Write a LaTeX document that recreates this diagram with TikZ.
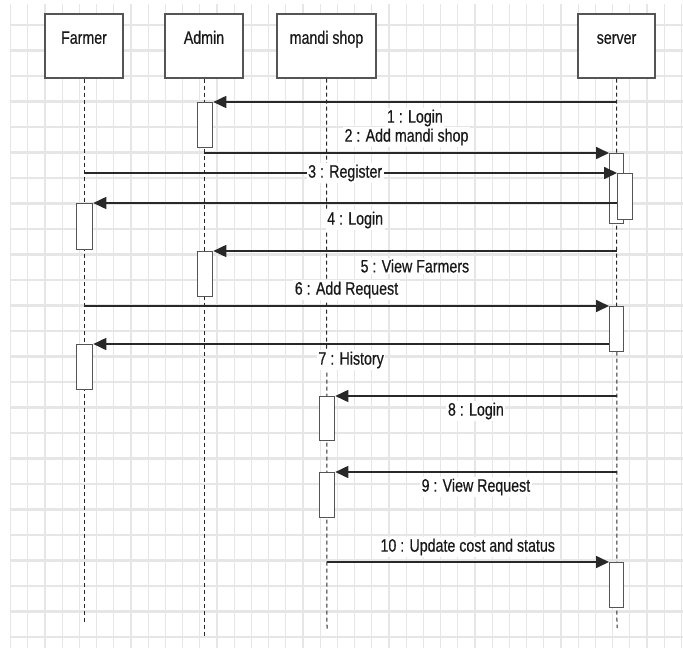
\documentclass[tikz,border=0pt]{standalone}
\usepackage{fontspec}
\setmainfont{Liberation Sans}[FakeStretch=0.79, FakeBold=0.5]
\usetikzlibrary{arrows.meta}
\definecolor{gridgray}{RGB}{230,230,230}
\definecolor{linegray}{RGB}{40,40,40}
\definecolor{boxgray}{RGB}{85,85,85}
\definecolor{textgray}{RGB}{25,25,25}

\begin{document}
\begin{tikzpicture}[
    x=1pt, y=-1pt,
    font=\fontsize{18}{21}\selectfont,
    actor/.style={
        draw=boxgray,
        line width=1.6pt,
        fill=white,
        minimum width=78pt,
        text height=13pt,
        text depth=17pt,
        inner ysep=17pt,
        inner xsep=2pt,
        anchor=north,
        text=textgray
    },
    lifeline/.style={draw=linegray, line width=1pt, dash pattern=on 4pt off 3pt},
    activation/.style={
        draw=boxgray,
        line width=1.3pt,
        fill=white,
        minimum width=15pt,
        inner sep=0pt,
        anchor=north west
    },
    msg/.style={draw=linegray, line width=1.7pt, -{Triangle[length=13pt,width=12pt]}},
    lbl/.style={fill=white, inner sep=1.5pt, text=textgray},
    gridline/.style={draw=gridgray, line width=1.2pt}
]

\useasboundingbox (0,0) rectangle (683,648);

% === Grille de fond ===
\foreach \gx in {0,...,39}
    \draw[gridline] (10.6+17.2*\gx,4) -- (10.6+17.2*\gx,648);
\foreach \gy in {0,...,24}
    \draw[gridline, line width=2.6pt] (10,25+25.5*\gy) -- (683,25+25.5*\gy);

% === Acteurs ===
\node[actor] (farmer) at (84,13) {Farmer};
\node[actor] (admin) at (204,13) {Admin};
\node[actor, minimum width=99pt] (shop) at (326.5,13) {mandi shop};
\node[actor, minimum width=77pt] (server) at (616.5,13) {server};

\coordinate (farmerEnd) at (84,624);
\coordinate (adminEnd) at (204,637);
\coordinate (shopEnd) at (327,629);
\coordinate (serverEnd) at (617,628);

% === Lignes de vie ===
\draw[lifeline] (farmer.south) -- (farmerEnd);
\draw[lifeline] (admin.south) -- (adminEnd);
\draw[lifeline] (shop.south) -- (shopEnd);
\draw[lifeline] (server.south) -- (serverEnd);

% === Activations ===
\node[activation, minimum height=45pt] (a1) at (197,102) {};
\node[activation, minimum width=14pt, minimum height=70pt] (s1) at (609,153) {};
\node[activation, minimum height=46pt] (s2) at (617,173) {};
\node[activation, minimum width=16pt, minimum height=46pt] (f1) at (76,203) {};
\node[activation, minimum height=45pt] (a2) at (197,251) {};
\node[activation, minimum width=14pt, minimum height=45pt] (s3) at (609,306) {};
\node[activation, minimum width=16pt, minimum height=45pt] (f2) at (76,344) {};
\node[activation, minimum height=44pt] (m1) at (319,396) {};
\node[activation, minimum height=45pt] (m2) at (319,472) {};
\node[activation, minimum width=14pt, minimum height=45pt] (s4) at (609,562) {};

% === Messages ===
\draw[msg] (server |- a1.north east) -- node[lbl, yshift=-16pt] (l1) {1 : Login} (a1.north east);
\draw[msg] (admin |- s1.north west) -- node[lbl, yshift=16pt] (l2) {2 : Add mandi shop} (s1.north west);
\draw[msg] (farmer |- s2.north west) -- node[lbl, pos=0.49] (l3) {3 : Register} (s2.north west);
\draw[msg] (s2.west |- f1.north east) -- node[lbl, yshift=-17pt] (l4) {4 : Login} (f1.north east);
\draw[msg] (server |- a2.north east) -- node[lbl, yshift=-15pt] (l5) {5 : View Farmers} (a2.north east);
\draw[msg] (farmer |- s3.north west) -- node[lbl, yshift=16pt] (l6) {6 : Add Request} (s3.north west);
\draw[msg] (s3.west |- f2.north east) -- node[lbl, yshift=-16pt] (l7) {7 : History} (f2.north east);
\draw[msg] (server |- m1.north east) -- node[lbl, yshift=-15pt] (l8) {8 : Login} (m1.north east);
\draw[msg] (server |- m2.north east) -- node[lbl, yshift=-15pt] (l9) {9 : View Request} (m2.north east);
\draw[msg] (shop |- s4.north west) -- node[lbl, yshift=15pt] (l10) {10 : Update cost and status} (s4.north west);

\end{tikzpicture}
\end{document}
